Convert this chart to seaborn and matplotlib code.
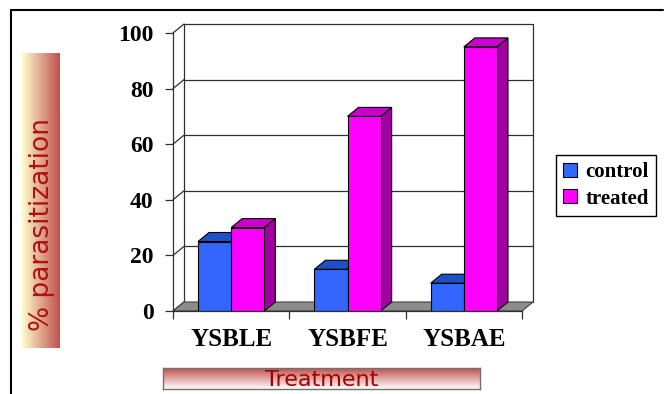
import numpy as np
import pandas as pd
import seaborn as sns
import matplotlib.pyplot as plt
from matplotlib.patches import Polygon, Patch
from matplotlib.lines import Line2D

# data
treatments = ['YSBLE', 'YSBFE', 'YSBAE']
groups = ['control', 'treated']
control = [25, 15, 10]
treated = [30, 70, 95]
yticks = [0, 20, 40, 60, 80, 100]

front = {'control': '#3366FF', 'treated': '#FF00FF'}
top = {'control': '#2050C8', 'treated': '#CC00CC'}
side = {'control': '#1A3FA0', 'treated': '#A000A0'}

df = pd.DataFrame({
    'treatment': treatments * 2,
    'group': ['control'] * 3 + ['treated'] * 3,
    'value': control + treated,
})

sns.set_style('white')
plt.rcParams['text.color'] = 'black'
plt.rcParams['xtick.color'] = 'black'
plt.rcParams['ytick.color'] = 'black'
W, H = 665, 394
fig = plt.figure(figsize=(W / 100, H / 100), dpi=100)

def fbox(x0, y0, x1, y1):
    # pixel box (top-left origin) -> figure fraction
    return [x0 / W, 1 - y1 / H, (x1 - x0) / W, (y1 - y0) / H]

# outer frame (top and left only visible)
fig.add_artist(Line2D([11 / W, 663 / W], [1 - 10 / H, 1 - 10 / H], color='black', lw=1.5))
fig.add_artist(Line2D([11 / W, 11 / W], [1 - 10 / H, 0], color='black', lw=1.5))

ax = fig.add_axes(fbox(173, 33, 522, 311))
ax.set_xlim(-0.5, 2.5)
ax.set_ylim(0, 100)

# depth offset of the 3d look, in pixels -> data units
dxp, dyp = 11, 9
dx = dxp * 3 / (522 - 173)
dy = dyp * 100 / (311 - 33)

# floor and back wall
floor = Polygon([(-0.5, 0), (2.5, 0), (2.5 + dx, dy), (-0.5 + dx, dy)],
                closed=True, facecolor='#8C8C8C', edgecolor='#404040', lw=0.8,
                clip_on=False, zorder=1)
ax.add_patch(floor)
for t in yticks[1:]:
    ax.plot([-0.5 + dx, 2.5 + dx], [t + dy, t + dy], color='#303030', lw=0.9,
            clip_on=False, zorder=0.5)
for t in yticks:
    ax.plot([-0.5, -0.5 + dx], [t, t + dy], color='#303030', lw=0.9,
            clip_on=False, zorder=0.5)
ax.plot([-0.5 + dx, -0.5 + dx], [dy, 100 + dy], color='#303030', lw=0.9, clip_on=False, zorder=0.5)
ax.plot([2.5 + dx, 2.5 + dx], [dy, 100 + dy], color='#303030', lw=0.9, clip_on=False, zorder=0.5)

sns.barplot(data=df, x='treatment', y='value', hue='group', hue_order=groups,
            palette=front, saturation=1, edgecolor='black', linewidth=0.8, width=0.57,
            legend=False, ax=ax, zorder=3)

# 3d faces on top of each bar
for container, g in zip(ax.containers, groups):
    for bar in container:
        x0 = bar.get_x()
        x1 = x0 + bar.get_width()
        h = bar.get_height()
        zo = 2.5 if g == 'control' else 3.5
        bar.set_zorder(zo + 0.2)
        ax.add_patch(Polygon([(x0, h), (x1, h), (x1 + dx, h + dy), (x0 + dx, h + dy)],
                             closed=True, facecolor=top[g], edgecolor='black', lw=0.8,
                             clip_on=False, zorder=zo))
        ax.add_patch(Polygon([(x1, 0), (x1 + dx, dy), (x1 + dx, h + dy), (x1, h)],
                             closed=True, facecolor=side[g], edgecolor='black', lw=0.8,
                             clip_on=False, zorder=zo))

for s in ['top', 'right']:
    ax.spines[s].set_visible(False)
for s in ['left', 'bottom']:
    ax.spines[s].set_color('#303030')
    ax.spines[s].set_linewidth(0.9)
    ax.spines[s].set_zorder(5)
ax.set_facecolor('none')

ax.set_yticks(yticks)
ax.set_yticklabels([str(t) for t in yticks], fontfamily='Liberation Serif',
                   fontweight='bold', fontsize=17, color='black')
ax.tick_params(axis='y', direction='out', length=6, width=0.9, color='#303030',
               pad=8, left=True)
ax.set_xticks(range(3))
ax.set_xticklabels(treatments, fontfamily='Liberation Serif', fontweight='bold',
                   fontsize=18, color='black')
ax.tick_params(axis='x', length=0, pad=12)
ax.set_xticks([-0.5, 0.5, 1.5, 2.5], minor=True)
ax.tick_params(axis='x', which='minor', direction='out', length=6, width=0.9,
               color='#303030', bottom=True)
ax.set_xlabel('')
ax.set_ylabel('')
ax.grid(False)

# gradient label boxes
yl_ax = fig.add_axes(fbox(22, 53, 60, 348))
grad = np.linspace(0, 1, 256)[None, :]
c0 = np.array([255, 253, 205]) / 255
c1 = np.array([192, 80, 77]) / 255
img = c0[None, None, :] * (1 - grad[..., None]) + c1[None, None, :] * grad[..., None]
yl_ax.imshow(img, aspect='auto', extent=[0, 1, 0, 1])
yl_ax.axis('off')
yl_ax.text(0.52, 0.42, '% parasitization', rotation=90, ha='center', va='center',
           color='#B01010', fontsize=19, fontfamily='DejaVu Sans',
           transform=yl_ax.transAxes)

xl_ax = fig.add_axes(fbox(163, 368, 480, 389))
g2 = np.linspace(0, 1, 256)[:, None]
img2 = c1[None, None, :] * (1 - g2[..., None]) + np.ones(3)[None, None, :] * g2[..., None]
img2 = np.repeat(img2, 4, axis=1)
xl_ax.imshow(img2, aspect='auto', extent=[0, 1, 0, 1])
xl_ax.set_xticks([])
xl_ax.set_yticks([])
for s in xl_ax.spines.values():
    s.set_color('#707070')
    s.set_linewidth(1)
xl_ax.text(0.5, 0.42, 'Treatment', ha='center', va='center', color='#A00000',
           fontsize=16, fontfamily='DejaVu Sans', transform=xl_ax.transAxes)

# legend
handles = [Patch(facecolor=front[g], edgecolor='black', linewidth=0.8, label=g) for g in groups]
leg = fig.legend(handles=handles, loc='upper left', bbox_to_anchor=(556 / W, 1 - 155 / H),
                 frameon=True, fancybox=False, edgecolor='black', framealpha=1,
                 prop={'family': 'Liberation Serif', 'weight': 'bold', 'size': 15},
                 handlelength=0.65, handleheight=0.65, handletextpad=0.4,
                 borderpad=0.35, labelspacing=0.3, borderaxespad=0)
leg.get_frame().set_linewidth(1)

fig.savefig('out.png', dpi=100)
